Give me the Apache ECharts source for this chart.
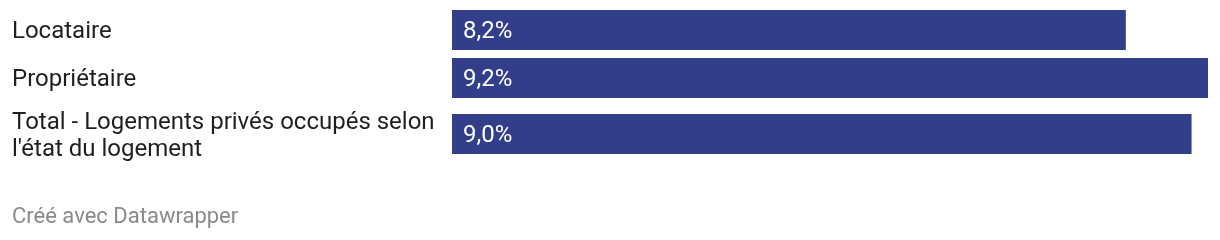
<!DOCTYPE html>
<html><head><meta charset="utf-8">
<script src="https://cdn.jsdelivr.net/npm/echarts@6/dist/echarts.min.js"></script>
<style>html,body{margin:0;padding:0;background:#fff}#c{width:1220px;height:240px}</style>
</head><body><div id="c"></div>
<script>
const categories = ["Locataire", "Propriétaire", "Total - Logements privés occupés selon l'état du logement"];
const values = [8.2, 9.2, 9.0];
const footerText = "Créé avec Datawrapper";

const labelFont = '24px Roboto';
const ctx = document.createElement('canvas').getContext('2d');
ctx.font = labelFont;
function wrap(text, maxW) {
  const words = text.split(' ');
  const lines = [];
  let cur = '';
  words.forEach(w => {
    const t = cur ? cur + ' ' + w : w;
    if (cur && ctx.measureText(t).width > maxW) { lines.push(cur); cur = w; }
    else cur = t;
  });
  if (cur) lines.push(cur);
  return lines;
}

const tops = [10, 58, 114];
const chart = echarts.init(document.getElementById('c'), null, {renderer: 'canvas'});
const grid = [], xAxis = [], yAxis = [], series = [];
categories.forEach((cat, i) => {
  grid.push({left: 452, width: 756, top: tops[i], height: 40});
  xAxis.push({type: 'value', gridIndex: i, min: 0, max: 9.2, show: false});
  yAxis.push({type: 'category', gridIndex: i, data: [cat],
    axisLine: {show: false}, axisTick: {show: false}, splitLine: {show: false},
    axisLabel: {align: 'left', margin: 440, color: '#1f1f1f', fontFamily: 'Roboto', fontSize: 24,
      formatter: v => wrap(v, 430).map(l => '{a|' + l + '}').join('\n'),
      rich: {a: {color: '#1f1f1f', fontFamily: 'Roboto', fontSize: 24, lineHeight: 27, padding: [4, 0, 0, 0]}}}});
  series.push({type: 'bar', xAxisIndex: i, yAxisIndex: i, data: [values[i]], barWidth: 40,
    itemStyle: {color: '#333e8b'}, silent: true, animation: false,
    label: {show: true, position: 'insideLeft', distance: 11, offset: [0, 2], color: '#fff', fontFamily: 'Roboto', fontSize: 24,
      formatter: p => p.value.toFixed(1).replace('.', ',') + '%'}});
});
chart.setOption({
  animation: false,
  grid, xAxis, yAxis, series,
  graphic: [{type: 'text', left: 12, top: 206, style: {text: footerText, fill: '#8a8a8a', font: '22px Roboto'}}]
});
</script></body></html>
